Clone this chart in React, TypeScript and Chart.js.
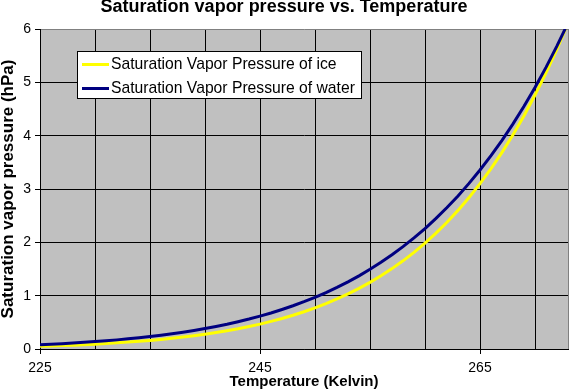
import React, { useEffect, useRef } from 'react';
import { Chart, registerables } from 'chart.js';

Chart.register(...registerables);

const temperatures = [
  225, 226, 227, 228, 229, 230, 231, 232, 233, 234,
  235, 236, 237, 238, 239, 240, 241, 242, 243, 244,
  245, 246, 247, 248, 249, 250, 251, 252, 253, 254,
  255, 256, 257, 258, 259, 260, 261, 262, 263, 264,
  265, 266, 267, 268, 269, 270, 271, 272, 273,
];

const iceVapor = [
  0.050, 0.057, 0.064, 0.072, 0.081, 0.091, 0.102, 0.115, 0.129, 0.144,
  0.161, 0.180, 0.201, 0.224, 0.249, 0.277, 0.308, 0.343, 0.380, 0.422,
  0.467, 0.518, 0.573, 0.633, 0.699, 0.772, 0.851, 0.938, 1.033, 1.136,
  1.249, 1.372, 1.507, 1.653, 1.812, 1.985, 2.173, 2.377, 2.599, 2.839,
  3.100, 3.382, 3.687, 4.017, 4.375, 4.761, 5.177, 5.627, 6.112,
];

const waterVapor = [
  0.080, 0.090, 0.100, 0.112, 0.125, 0.139, 0.154, 0.171, 0.190, 0.211,
  0.234, 0.259, 0.286, 0.316, 0.348, 0.384, 0.423, 0.465, 0.512, 0.562,
  0.617, 0.676, 0.741, 0.811, 0.887, 0.970, 1.059, 1.155, 1.260, 1.372,
  1.494, 1.625, 1.767, 1.919, 2.083, 2.259, 2.448, 2.652, 2.870, 3.105,
  3.356, 3.625, 3.913, 4.222, 4.552, 4.904, 5.281, 5.683, 6.112,
];

const xTickLabels = [225, 245, 265];
const seriesLabels = ['Saturation Vapor Pressure of ice', 'Saturation Vapor Pressure of water'];
const seriesColors = ['#ffff00', '#000080'];
const chartTitle = 'Saturation vapor pressure vs. Temperature';
const xTitle = 'Temperature (Kelvin)';
const yTitle = 'Saturation vapor pressure (hPa)';

const FONT = '"Liberation Sans", Arial, Helvetica, sans-serif';

const plotBackground = {
  id: 'plotBackground',
  beforeDraw(chart: any) {
    const { ctx, chartArea: a } = chart;
    ctx.save();
    ctx.fillStyle = '#c0c0c0';
    ctx.fillRect(a.left, a.top, a.right - a.left, a.bottom - a.top);
    ctx.restore();
  },
  beforeDatasetsDraw(chart: any) {
    const { ctx, chartArea: a } = chart;
    ctx.save();
    ctx.strokeStyle = '#808080';
    ctx.lineWidth = 1;
    ctx.beginPath();
    ctx.moveTo(Math.round(a.right) + 0.5, a.top);
    ctx.lineTo(Math.round(a.right) + 0.5, a.bottom);
    ctx.stroke();
    ctx.restore();
  },
};

const boxLegend = {
  id: 'boxLegend',
  afterDraw(chart: any) {
    const { ctx } = chart;
    const ds = chart.data.datasets;
    ctx.save();
    ctx.fillStyle = '#ffffff';
    ctx.fillRect(77, 51, 285, 48);
    ctx.strokeStyle = '#000000';
    ctx.lineWidth = 1;
    ctx.strokeRect(77.5, 51.5, 284, 47);
    ds.forEach((d: any, i: number) => {
      const y = 64.5 + i * 24;
      ctx.strokeStyle = d.borderColor;
      ctx.lineWidth = 3;
      ctx.beginPath();
      ctx.moveTo(82, y);
      ctx.lineTo(109, y);
      ctx.stroke();
      ctx.fillStyle = '#000000';
      ctx.font = `15.7px ${FONT}`;
      ctx.textBaseline = 'middle';
      ctx.textAlign = 'left';
      ctx.fillText(d.label, 111, y + 0.5);
    });
    ctx.restore();
  },
};

export default function App() {
  const canvasRef = useRef<HTMLCanvasElement | null>(null);

  useEffect(() => {
    const canvas = canvasRef.current;
    if (!canvas) return;
    const series = [iceVapor, waterVapor];
    const chart = new Chart(canvas, {
      type: 'line',
      data: {
        datasets: series.map((vals, si) => ({
          label: seriesLabels[si],
          data: temperatures.map((t, i) => ({ x: t, y: vals[i] })),
          borderColor: seriesColors[si],
          backgroundColor: seriesColors[si],
          borderWidth: 3,
          pointRadius: 0,
          pointHoverRadius: 0,
          tension: 0,
          fill: false,
          clip: 0,
          order: si === 0 ? 1 : 0,
        })),
      },
      options: {
        animation: false,
        responsive: false,
        devicePixelRatio: 1,
        layout: { padding: { left: 0, right: 4, top: 0, bottom: 0 } },
        plugins: {
          legend: { display: false },
          tooltip: { enabled: false },
          title: {
            display: true,
            text: chartTitle,
            color: '#000000',
            font: { family: FONT, size: 18, weight: 'bold', lineHeight: 0.8 },
            padding: { top: 0, bottom: 14.6 },
          },
        },
        scales: {
          x: {
            type: 'linear',
            position: 'bottom',
            min: 225,
            max: 273,
            afterFit(scale: any) {
              scale.height = 41;
            },
            ticks: {
              stepSize: 5,
              includeBounds: false,
              autoSkip: false,
              maxRotation: 0,
              minRotation: 0,
              padding: 6,
              color: '#000000',
              font: { family: FONT, size: 14 },
              callback: (v: any) => (xTickLabels.includes(Number(v)) ? String(v) : ''),
            },
            grid: {
              color: '#000000',
              lineWidth: 1,
              drawTicks: true,
              tickLength: 5,
              tickColor: (ctx: any) =>
                ctx.tick && xTickLabels.includes(ctx.tick.value) ? '#000000' : 'rgba(0,0,0,0)',
            },
            border: { display: true, color: '#000000', width: 1 },
            title: {
              display: true,
              text: xTitle,
              color: '#000000',
              font: { family: FONT, size: 15, weight: 'bold', lineHeight: 1.1 },
              padding: 0,
            },
          },
          y: {
            type: 'linear',
            min: 0,
            max: 6,
            afterFit(scale: any) {
              scale.width = 40;
            },
            ticks: {
              stepSize: 1,
              padding: 4,
              color: '#000000',
              font: { family: FONT, size: 14 },
            },
            grid: {
              color: (ctx: any) => (ctx.tick && ctx.tick.value === 6 ? '#808080' : '#000000'),
              lineWidth: 1,
              drawTicks: true,
              tickLength: 5,
              tickColor: '#000000',
            },
            border: { display: true, color: '#000000', width: 1 },
            title: {
              display: true,
              text: yTitle,
              color: '#000000',
              font: { family: FONT, size: 17, weight: 'bold', lineHeight: 1.0 },
              padding: 0,
            },
          },
        },
      },
      plugins: [plotBackground, boxLegend],
    } as any);
    return () => chart.destroy();
  }, []);

  return (
    <div style={{ position: 'fixed', left: 0, top: 0, width: 572, height: 390, background: '#ffffff' }}>
      <canvas ref={canvasRef} width={572} height={390} style={{ display: 'block' }} />
    </div>
  );
}
